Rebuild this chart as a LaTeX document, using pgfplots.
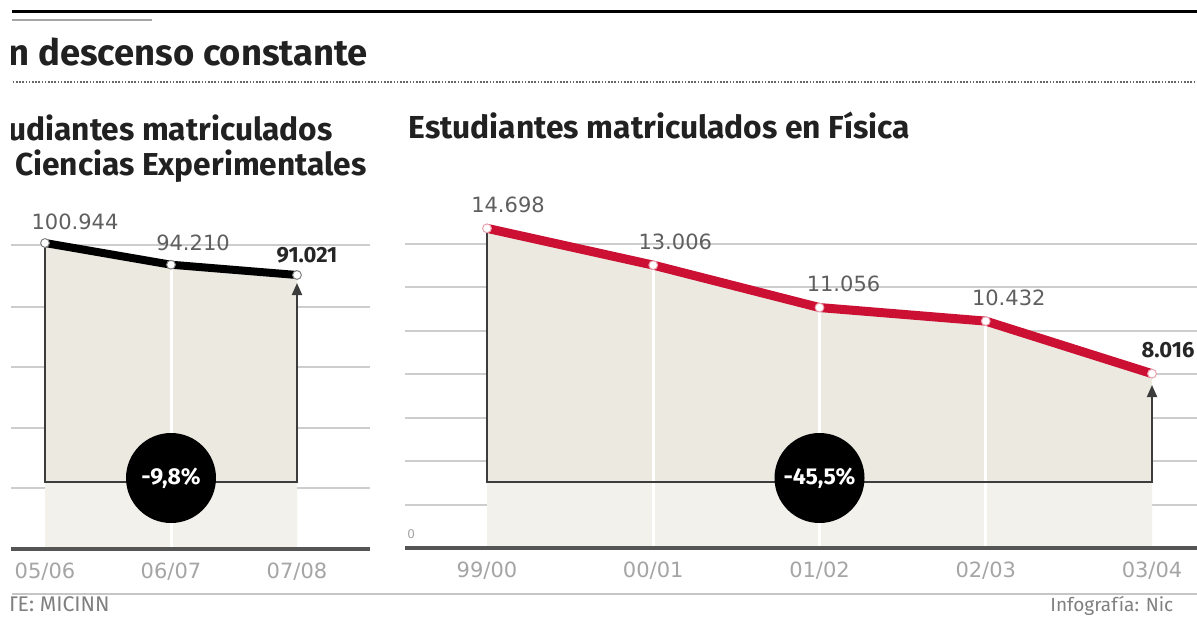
\documentclass[border=0pt]{standalone}
\usepackage{fontspec}
\setmainfont{Fira Sans}
\newfontfamily\lblfont{DejaVu Sans}
\usepackage{pgfplots}
\pgfplotsset{compat=1.18}
\usetikzlibrary{arrows.meta}
\definecolor{fillA}{RGB}{236,233,225}
\definecolor{fillB}{RGB}{243,241,236}
\definecolor{redline}{RGB}{204,16,52}
\definecolor{gridc}{RGB}{205,205,205}
\definecolor{basec}{RGB}{85,85,85}
\definecolor{brack}{RGB}{60,60,60}
\definecolor{lblc}{RGB}{95,95,95}
\definecolor{tickc}{RGB}{165,165,165}
\pgfplotsset{
  chartstyle/.style={
    scale only axis, anchor=south west, clip=false,
    axis line style={draw=none}, tick style={draw=none},
    scaled y ticks=false, scaled x ticks=false,
    yticklabels={}, ymajorgrids, grid style={gridc, line width=1pt},
    xticklabel style={font=\lblfont\fontsize{10.5}{12}\selectfont, text=tickc, anchor=center, yshift=-11.5pt},
  }
}
\begin{document}
\begin{tikzpicture}
\clip (0pt,0pt) rectangle (598.5pt,-308.5pt);
\fill[white] (0pt,0pt) rectangle (598.5pt,-308.5pt);
\begin{scope}[x=0.5pt,y=-0.5pt]
  \draw[line width=1.5pt] (12,11) -- (1197,11);
  \draw[line width=1pt, gray!70] (12,20) -- (152,20);
  \node[anchor=base east, inner sep=0pt, font=\bfseries\fontsize{18.2}{22}\selectfont, text=black!87] at (368,65) {En descenso constante};
  \draw[line width=0.6pt, black!60, dash pattern=on 0.8pt off 0.8pt] (0,82) -- (1197,82);
  \node[anchor=base east, inner sep=0pt, font=\bfseries\fontsize{15.85}{18}\selectfont, text=black!87] at (333,140) {Estudiantes matriculados};
  \node[anchor=base east, inner sep=0pt, font=\bfseries\fontsize{15.85}{18}\selectfont, text=black!87] at (367,175) {en Ciencias Experimentales};
  \node[anchor=base west, inner sep=0pt, font=\bfseries\fontsize{15.9}{18}\selectfont, text=black!87] at (408,138) {Estudiantes matriculados en Física};
  \draw[line width=1pt, gray!45] (12,594) -- (1197,594);
  \node[anchor=base east, inner sep=0pt, font=\fontsize{10.6}{12}\selectfont, text=gray] at (110,611) {FUENTE: MICINN};
  \node[anchor=base west, inner sep=0pt, font=\fontsize{9.5}{11}\selectfont, text=gray] at (1050,611) {Infografía: Nic};
\end{scope}

% ---------- Left chart: Ciencias Experimentales ----------
\begin{axis}[chartstyle, at={(5pt,-274.5pt)}, width=180pt, height=174.5pt,
  xmin=-0.2778, xmax=2.5794, ymin=6050, ymax=114275,
  ytick={24966,43572,62488,81094,100320},
  xtick={0,1,2}, xticklabels={05/06,06/07,07/08}]
  \addplot[draw=none, fill=fillA] coordinates {(0,6050) (0,100944) (1,94210) (2,91021) (2,6050)};
  \addplot[draw=none, fill=fillB] coordinates {(0,6050) (0,26827) (2,26827) (2,6050)};
  \addplot[white, line width=1.5pt] coordinates {(1,6050) (1,94210)};
  \draw[basec, line width=2pt] (axis cs:-0.2778,6050) -- (axis cs:2.5794,6050);
  \draw[brack, line width=1pt, -{Triangle[width=5pt,length=6pt]}] (axis cs:0,100944) -- (axis cs:0,26827) -- (axis cs:2,26827) -- (axis cs:2,88537);
  \addplot[black, line width=4pt, mark=*, mark size=2.2pt, mark options={fill=white, draw=gray, line width=0.5pt}] coordinates {(0,100944) (1,94210) (2,91021)};
  \fill[black] (axis cs:1,28067) circle[radius=22.5pt];
  \node[text=white, font=\bfseries\fontsize{11.5}{13}\selectfont] at (axis cs:1,28067) {-9,8\%};
  \node[text=lblc, font=\lblfont\fontsize{10.5}{12}\selectfont, xshift=15pt, yshift=10.5pt] at (axis cs:0,100944) {100.944};
  \node[text=lblc, font=\lblfont\fontsize{10.5}{12}\selectfont, xshift=11pt, yshift=11pt] at (axis cs:1,94210) {94.210};
  \node[text=black!85, font=\bfseries\fontsize{11}{13}\selectfont, xshift=5pt, yshift=10pt] at (axis cs:2,91021) {91.021};
\end{axis}

% ---------- Right chart: Física ----------
\begin{axis}[chartstyle, at={(202.5pt,-274pt)}, width=396pt, height=179pt,
  xmin=-0.4932, xmax=4.2707, ymin=0, ymax=16460,
  ytick={2000,4000,6000,8000,10000,12000,14000},
  xtick={0,1,2,3,4}, xticklabels={99/00,00/01,01/02,02/03,03/04}]
  \addplot[draw=none, fill=fillA] coordinates {(0,0) (0,14698) (1,13006) (2,11056) (3,10432) (4,8016) (4,0)};
  \addplot[draw=none, fill=fillB] coordinates {(0,0) (0,3035) (4,3035) (4,0)};
  \addplot[white, line width=1.5pt] coordinates {(1,0) (1,13006)};
  \addplot[white, line width=1.5pt] coordinates {(2,0) (2,11056)};
  \addplot[white, line width=1.5pt] coordinates {(3,0) (3,10432)};
  \draw[basec, line width=2pt] (axis cs:-0.4932,0) -- (axis cs:4.2707,0);
  \node[anchor=south west, inner sep=1pt, text=tickc, font=\lblfont\fontsize{6}{7}\selectfont] at (axis cs:-0.4932,300) {0};
  \draw[brack, line width=1pt, -{Triangle[width=5pt,length=6pt]}] (axis cs:0,14698) -- (axis cs:0,3035) -- (axis cs:4,3035) -- (axis cs:4,7495);
  \addplot[redline, line width=4.5pt, mark=*, mark size=2.2pt, mark options={fill=white, draw=redline!40, line width=0.5pt}] coordinates {(0,14698) (1,13006) (2,11056) (3,10432) (4,8016)};
  \fill[black] (axis cs:2,3219) circle[radius=22.5pt];
  \node[text=white, font=\bfseries\fontsize{11.5}{13}\selectfont] at (axis cs:2,3219) {-45,5\%};
  \node[text=lblc, font=\lblfont\fontsize{10.5}{12}\selectfont, xshift=10.5pt, yshift=11.5pt] at (axis cs:0,14698) {14.698};
  \node[text=lblc, font=\lblfont\fontsize{10.5}{12}\selectfont, xshift=11pt, yshift=11.5pt] at (axis cs:1,13006) {13.006};
  \node[text=lblc, font=\lblfont\fontsize{10.5}{12}\selectfont, xshift=12pt, yshift=12pt] at (axis cs:2,11056) {11.056};
  \node[text=lblc, font=\lblfont\fontsize{10.5}{12}\selectfont, xshift=11.5pt, yshift=11.5pt] at (axis cs:3,10432) {10.432};
  \node[text=black!85, font=\bfseries\fontsize{11}{13}\selectfont, xshift=8pt, yshift=12pt] at (axis cs:4,8016) {8.016};
\end{axis}
% left margin of the cropped page
\fill[white] (0pt,0pt) rectangle (5.5pt,-308.5pt);
\end{tikzpicture}
\end{document}
